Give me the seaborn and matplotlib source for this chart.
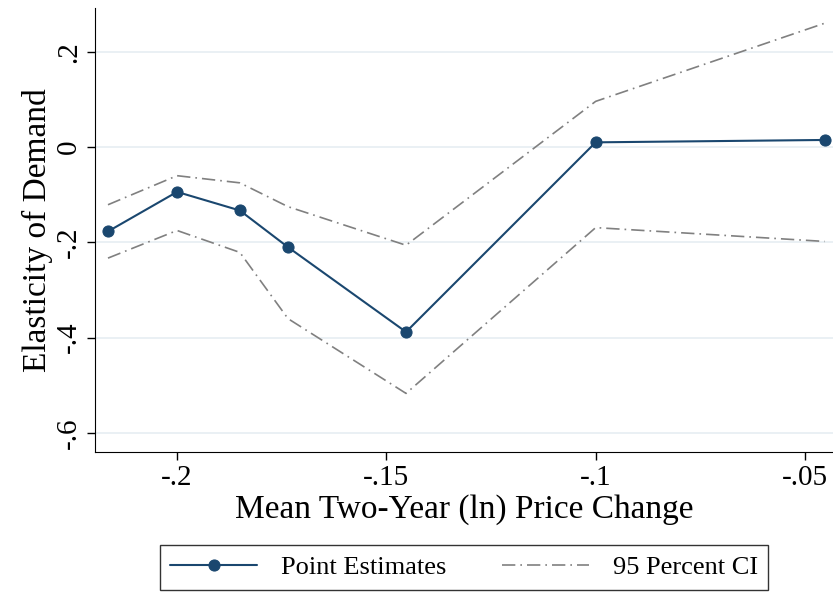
import matplotlib.pyplot as plt
import seaborn as sns
import pandas as pd

price_change = [-0.2165, -0.2, -0.185, -0.1735, -0.1453, -0.1, -0.0453]
estimate = [-0.177, -0.094, -0.133, -0.21, -0.388, 0.010, 0.015]
ci_upper = [-0.121, -0.060, -0.075, -0.125, -0.206, 0.096, 0.260]
ci_lower = [-0.233, -0.175, -0.221, -0.360, -0.517, -0.169, -0.198]

df = pd.DataFrame({"x": price_change, "est": estimate, "hi": ci_upper, "lo": ci_lower})

sns.set_style("white")
plt.rcParams["font.family"] = ["Liberation Serif", "DejaVu Serif"]
plt.rcParams["text.color"] = "black"
plt.rcParams["axes.labelcolor"] = "black"
plt.rcParams["xtick.color"] = "black"
plt.rcParams["ytick.color"] = "black"

fig = plt.figure(figsize=(8.33, 5.93), dpi=100)
ax = fig.add_axes([95 / 833, 1 - 452 / 593, (833 - 95) / 833, (452 - 8) / 593])

navy = "#1a476f"
sns.lineplot(data=df, x="x", y="est", ax=ax, color=navy, lw=1.5, marker="o",
             markersize=8, markeredgecolor=navy, label="Point Estimates")
sns.lineplot(data=df, x="x", y="hi", ax=ax, color="#808080", lw=1.2,
             linestyle=(0, (8, 3, 1, 3)), label="95 Percent CI")
sns.lineplot(data=df, x="x", y="lo", ax=ax, color="#808080", lw=1.2,
             linestyle=(0, (8, 3, 1, 3)), label="_nolegend_")

ax.set_xlim(-0.2196, -0.0433)
ax.set_ylim(-0.64, 0.292)
ax.set_xticks([-0.2, -0.15, -0.1, -0.05])
ax.set_xticklabels(["-.2", "-.15", "-.1", "-.05"])
ax.set_yticks([-0.6, -0.4, -0.2, 0, 0.2])
ax.set_yticklabels(["-.6", "-.4", "-.2", "0", ".2"], rotation=90, va="center")
ax.tick_params(labelsize=21, length=6, width=1, direction="out", left=True, bottom=True)
ax.grid(axis="y", color="#e6eef2", lw=1.2)
for s in ["top", "right"]:
    ax.spines[s].set_visible(False)
for s in ["left", "bottom"]:
    ax.spines[s].set_color("black")
ax.set_xlabel("Mean Two-Year (ln) Price Change", fontsize=24, labelpad=2)
ax.set_ylabel("Elasticity of Demand", fontsize=24, labelpad=2)

ax.legend(loc="upper center", bbox_to_anchor=(0.5, -0.18), ncol=2, fontsize=19,
          frameon=True, fancybox=False, edgecolor="black", handlelength=3.3,
          columnspacing=2.1, borderpad=0.4, handletextpad=0.9)

fig.savefig("out.png", dpi=100)
